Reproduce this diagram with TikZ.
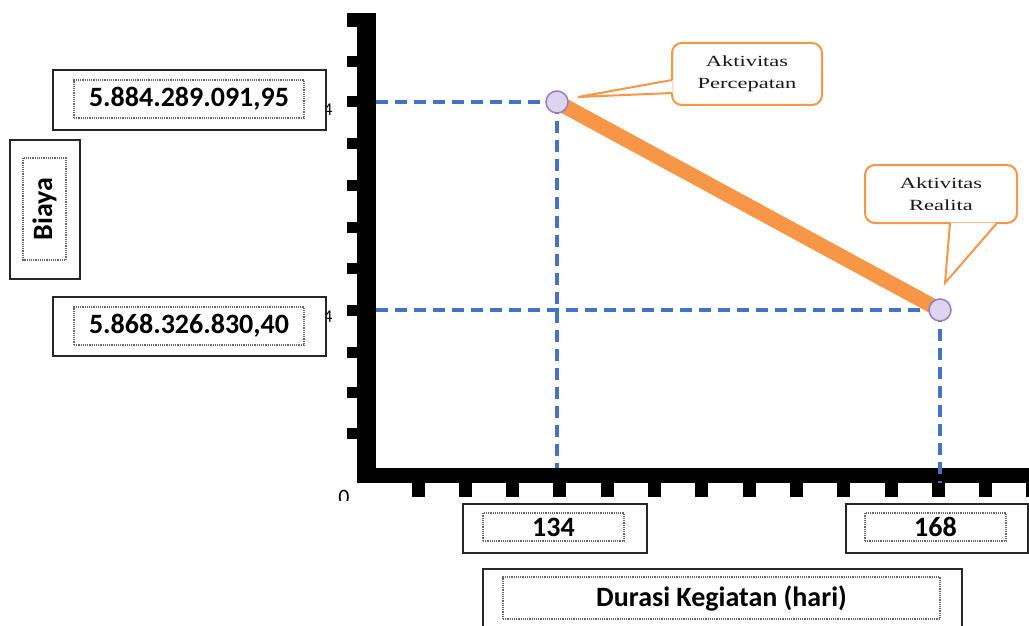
\documentclass[tikz,border=0pt]{standalone}
\usepackage{fontspec}
\setmainfont{Liberation Serif}
\newfontfamily\calib{Carlito}
\usepackage{graphicx}
\usepackage{tikz}
\usetikzlibrary{calc,positioning,backgrounds}
\definecolor{dfblue}{RGB}{68,114,196}
\definecolor{dforange}{RGB}{247,150,70}
\definecolor{dflilac}{RGB}{222,212,240}
\definecolor{dfpurple}{RGB}{150,125,195}
\tikzstyle{guide} = [line width=3.5pt,color=dfblue,dash pattern=on 12pt off 7pt]
\tikzstyle{milestone} = [circle,minimum size=22pt,inner sep=0pt,fill=dflilac,draw=dfpurple,line width=1.5pt]
\tikzstyle{outbox} = [draw=black!85,line width=1.6pt,inner sep=0pt]
\tikzstyle{inbox} = [draw=black!60,densely dotted,line width=1.2pt,inner sep=0pt,font=\calib\bfseries\fontsize{28}{30}\selectfont]
\tikzstyle{callbox} = [draw=dforange,line width=2pt,fill=white,rounded corners=10pt,inner sep=0pt,align=center,text=black!90,font=\fontsize{15.5}{22}\selectfont]
\tikzstyle{pointer} = [draw=dforange,line width=2pt]

\begin{document}
\begin{tikzpicture}[x=1pt,y=-1pt]
\useasboundingbox (0,0) rectangle (1029,626);

% Points on the line
\node[milestone] (pA) at (557,102) {};
\node[milestone] (pB) at (940,310) {};
\coordinate (yA) at (376,102);
\coordinate (yB) at (376,310);
\coordinate (xA) at (557,468);
\coordinate (xB) at (940,483);

\begin{scope}[on background layer]
% Axes
\fill (357,13) rectangle (376,483);
\fill (347,13) rectangle (376,27);
\foreach \y in {62,102,143,185,227,268,310,352,392,433}
  \fill (347,\y-5.5) rectangle (358,\y+5.5);
\fill (357,468) rectangle (1029,483);
\foreach \k in {0,...,13}
  \fill (418+47.3*\k-6.5,483) rectangle (418+47.3*\k+6.5,497);

% Guides and cost line
\draw[guide] (yA) -- (pA.center);
\draw[guide] (pA.center) -- (xA);
\draw[guide] (yB) -- (pB.center);
\draw[guide] (pB.center) -- (xB);
\draw[line width=15pt,dforange] (pA.center) -- (pB.center);
\end{scope}

% Callouts
\node[callbox,minimum width=150pt,minimum height=62pt] (callA) at (747,74)
  {\scalebox{1.45}[1]{Aktivitas}\\\scalebox{1.45}[1]{Percepatan}};
\coordinate (tipA) at ($(pA)+(21,-5)$);
\fill[white] ($(callA.west)+(1.5,6)$) -- (tipA) -- ($(callA.west)+(1.5,19)$) -- cycle;
\draw[pointer] ($(callA.west)+(1,6)$) -- (tipA) -- ($(callA.west)+(1,19)$);

\node[callbox,minimum width=152pt,minimum height=58pt] (callB) at (941,194)
  {\scalebox{1.45}[1]{Aktivitas}\\\scalebox{1.45}[1]{Realita}};
\coordinate (tipB) at ($(pB)+(5,-27)$);
\fill[white] ($(callB.south)+(9,-1.5)$) -- (tipB) -- ($(callB.south)+(56,-1.5)$) -- cycle;
\draw[pointer] ($(callB.south)+(9,-1)$) -- (tipB) -- ($(callB.south)+(56,-1)$);

% Cost labels
\node[outbox,minimum width=273pt,minimum height=60pt] (costHi) at (189.5,100) {};
\node[inbox,minimum width=230pt,minimum height=38pt] (costHiTxt) at (189,99) {5.884.289.091,95};
\node[outbox,minimum width=273pt,minimum height=59pt] (costLo) at (189.5,326.5) {};
\node[inbox,minimum width=230pt,minimum height=38pt] (costLoTxt) at (189,326) {5.868.326.830,40};
\node[outbox,minimum width=70pt,minimum height=139pt] (biaya) at (45,209.5) {};
\node[inbox,minimum width=102pt,minimum height=43pt,rotate=90] (biayaTxt) at (44.5,209) {Biaya};

% Duration labels
\node[outbox,minimum width=184pt,minimum height=49pt] (durA) at (555,528.5) {};
\node[inbox,minimum width=141pt,minimum height=28pt] (durATxt) at (553.5,527) {134};
\node[outbox,minimum width=182pt,minimum height=49pt] (durB) at (937,528.5) {};
\node[inbox,minimum width=141pt,minimum height=28pt] (durBTxt) at (935.5,527) {168};
\node[outbox,minimum width=479pt,minimum height=90pt] (durasi) at (722.5,614) {};
\node[inbox,minimum width=437pt,minimum height=42pt] (durasiTxt) at (721.5,598) {Durasi Kegiatan (hari)};

% Half hidden axis numbers
\begin{scope}
\clip (330,480) rectangle (360,500);
\node[font=\calib\fontsize{22}{24}\selectfont] (zero) at (344,497) {0};
\end{scope}
\begin{scope}
\clip (327.5,95) rectangle (336,125);
\node[font=\calib\fontsize{18}{20}\selectfont] (fourA) at (328,110) {4};
\end{scope}
\begin{scope}
\clip (327.5,300) rectangle (336,330);
\node[font=\calib\fontsize{18}{20}\selectfont] (fourB) at (328,317) {4};
\end{scope}
\end{tikzpicture}
\end{document}
